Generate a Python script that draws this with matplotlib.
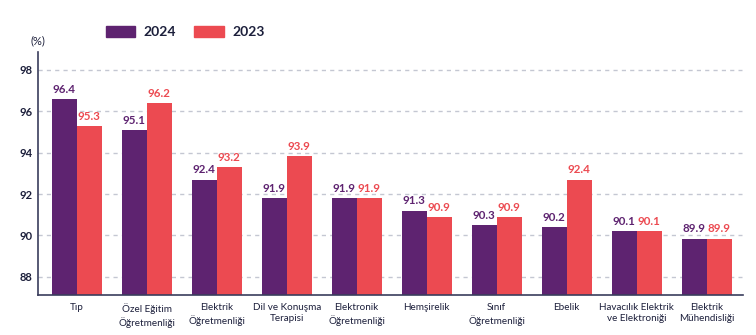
import numpy as np
import matplotlib
matplotlib.use("Agg")
import matplotlib.pyplot as plt
from matplotlib.patches import Patch

# categories (two-line labels as shown on the chart)
categories = ["Tıp", "Özel Eğitim\nÖğretmenliği", "Elektrik\nÖğretmenliği",
              "Dil ve Konuşma\nTerapisi", "Elektronik\nÖğretmenliği", "Hemşirelik",
              "Sınıf\nÖğretmenliği", "Ebelik", "Havacılık Elektrik\nve Elektroniği",
              "Elektrik\nMühendisliği"]

# bar heights as drawn in the picture
vals2024 = [96.6, 95.1, 92.7, 91.8, 91.8, 91.2, 90.5, 90.4, 90.2, 89.85]
vals2023 = [95.3, 96.4, 93.3, 93.85, 91.8, 90.9, 90.9, 92.7, 90.2, 89.85]

# value labels printed above the bars
labels2024 = ["96.4", "95.1", "92.4", "91.9", "91.9", "91.3", "90.3", "90.2", "90.1", "89.9"]
labels2023 = ["95.3", "96.2", "93.2", "93.9", "91.9", "90.9", "90.9", "92.4", "90.1", "89.9"]

yticks = [88, 90, 92, 94, 96, 98]

purple = "#5e2370"
red = "#ec4a51"
ink = "#1c1f3b"

plt.rcParams['font.family'] = ['Lato', 'DejaVu Sans']

fig = plt.figure(figsize=(7.56, 3.35), dpi=100)
ax = fig.add_axes([0.0503, 0.1194, 0.9325, 0.7254])

x = np.arange(len(categories))
w = 0.357
bottom = 87.12
ax.bar(x - w / 2, np.array(vals2024) - bottom, w, bottom=bottom, color=purple)
ax.bar(x + w / 2, np.array(vals2023) - bottom, w, bottom=bottom, color=red)

for i in range(len(x)):
    ax.text(x[i] - w / 2, vals2024[i] + 0.2, labels2024[i], ha="center", va="bottom",
            color=purple, fontsize=8.3, fontweight="bold")
    ax.text(x[i] + w / 2, vals2023[i] + 0.2, labels2023[i], ha="center", va="bottom",
            color=red, fontsize=8.3, fontweight="bold")

ax.set_ylim(bottom, 98.87)
ax.set_xlim(-0.553, 9.52)
ax.hlines(yticks, -0.553, 9.5, colors="#c4c7d2", linestyles=(0, (3, 3)), linewidth=1, zorder=0)

ax.set_yticks(yticks)
ax.set_yticklabels([str(t) for t in yticks], fontsize=8, color=ink, fontweight="bold")
ax.set_xticks(x)
ax.set_xticklabels(categories, fontsize=7.1, color=ink, linespacing=1.3)
ax.tick_params(axis="both", length=0, pad=4)
ax.tick_params(axis="x", pad=6)

for s in ["top", "right"]:
    ax.spines[s].set_visible(False)
ax.spines["left"].set_color("#3a3d5c")
ax.spines["bottom"].set_color("#3a3d5c")
ax.spines["left"].set_linewidth(1.2)
ax.spines["bottom"].set_linewidth(1.2)

fig.text(0.040, 0.862, "(%)", fontsize=8, color=ink, ha="left", va="bottom")

handles = [Patch(color=purple, label="2024"), Patch(color=red, label="2023")]
leg = fig.legend(handles=handles, loc="center", bbox_to_anchor=(0.245, 0.905), ncol=2,
                 frameon=False, fontsize=10, handlelength=2.15, handleheight=0.9,
                 columnspacing=1.3, handletextpad=0.6)
for t in leg.get_texts():
    t.set_color(ink)
    t.set_fontweight("bold")

fig.savefig("out.png", dpi=100)
